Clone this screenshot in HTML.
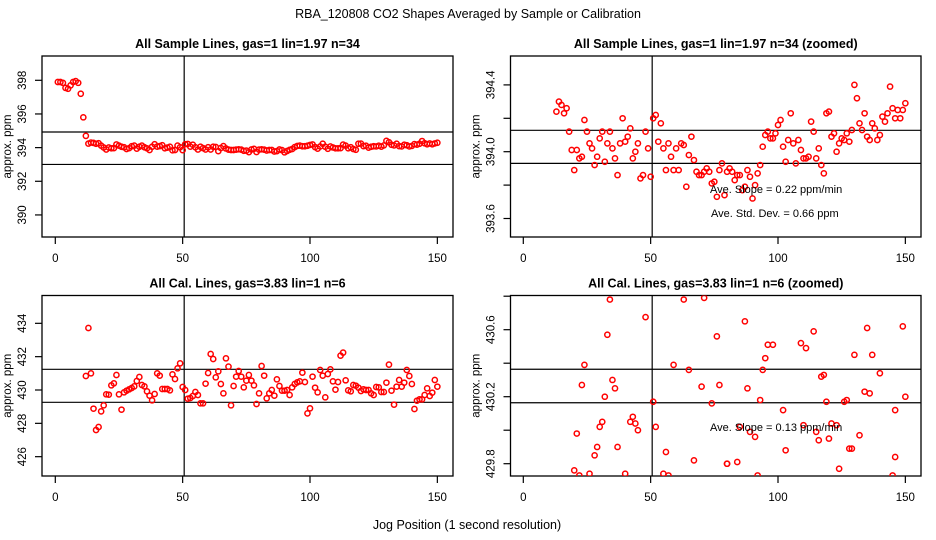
<!DOCTYPE html>
<html><head><meta charset="utf-8"><style>
html,body{margin:0;padding:0;background:#fff;}
svg{display:block;font-family:"Liberation Sans",sans-serif;}
</style></head><body>
<svg id="chart" width="936" height="540" viewBox="0 0 936 540" xmlns="http://www.w3.org/2000/svg">
<text x="468" y="18" text-anchor="middle" font-size="12.5">RBA_120808  CO2 Shapes Averaged by Sample or Calibration</text>
<text x="467" y="529" text-anchor="middle" font-size="12.5">Jog Position (1 second resolution)</text>
</svg>
<script>
// ---- data ----
const sampleVals = [397.9,397.9,397.85,397.55,397.5,397.7,397.9,397.95,397.85,397.2,395.8,394.7,394.24,394.3,394.28,394.23,394.26,394.12,394.01,393.89,394.01,393.96,393.97,394.19,394.12,394.05,394.02,393.92,393.97,394.08,394.12,393.94,394.05,394.12,394.02,393.96,393.86,394.05,394.2,394.06,394.09,394.14,393.96,394.0,394.05,393.84,393.86,394.12,394.02,393.85,394.2,394.22,394.06,394.17,394.02,393.89,394.05,393.97,393.89,394.02,393.89,394.05,394.04,393.79,393.98,394.09,393.95,393.88,393.86,393.86,393.88,393.9,393.88,393.81,393.82,393.73,393.89,393.93,393.74,393.88,393.9,393.88,393.83,393.86,393.86,393.77,393.79,393.89,393.85,393.72,393.8,393.87,393.92,394.03,394.1,394.12,394.08,394.08,394.11,394.16,394.19,394.03,393.94,394.07,394.23,394.05,393.93,394.07,394.01,393.96,393.96,393.97,394.18,394.12,393.96,394.02,393.92,393.87,394.23,394.24,394.09,394.11,394.0,394.05,394.08,394.07,394.11,394.06,394.13,394.4,394.32,394.17,394.13,394.23,394.09,394.07,394.17,394.14,394.07,394.1,394.21,394.18,394.23,394.39,394.26,394.2,394.25,394.2,394.25,394.29];
const calStart = 12;
const calVals = [430.84,433.72,431.0,428.88,427.6,427.78,428.72,429.08,429.74,429.72,430.28,430.4,430.9,429.74,428.82,429.86,429.96,430.04,430.12,430.22,430.54,430.78,430.3,430.22,429.92,429.66,429.38,429.76,431.0,430.86,430.06,430.06,430.06,429.98,430.94,430.66,431.3,431.6,430.18,430.0,429.48,429.52,429.64,429.88,429.7,429.2,429.2,430.38,431.02,432.16,431.86,430.76,431.12,430.36,429.8,431.9,431.4,429.08,430.24,430.8,431.14,430.8,430.16,430.56,430.9,430.56,430.28,429.16,429.8,431.44,430.86,429.5,429.8,430.0,429.66,430.64,430.24,429.96,429.96,430.0,429.7,430.16,430.36,430.46,430.52,431.04,430.48,428.6,428.9,430.8,430.14,429.86,431.2,430.86,429.56,430.96,431.24,430.52,430.02,430.48,432.06,432.24,430.58,429.98,429.92,430.3,430.26,430.14,429.94,430.04,430.0,430.0,429.8,429.7,430.18,430.16,429.88,429.88,430.44,431.52,429.96,429.12,430.2,430.6,430.2,430.44,431.2,430.84,430.36,428.86,429.36,429.44,429.44,429.7,430.1,429.64,429.84,430.6,430.2];
const calZoomX = [34,48,33,24,23,35,36,32,51,43,42,44,45,31,30,21,52,37,29,28,20,22,26,40,55,57,56,67,80,63,71,76,59,65,70,77,74,87,114,135,149,96,98,109,111,95,130,137,94,117,118,140,88,134,136,150,93,119,126,127,102,146,110,121,123,89,91,85,115,116,120,132,128,129,103,146,80,84,124,92,145];
const calZoomVals = [430.78,430.675,430.57,430.39,430.27,430.3,430.25,430.2,430.17,430.08,430.05,430.04,430.0,430.05,430.02,429.98,430.02,429.9,429.9,429.85,429.76,429.73,429.74,429.74,429.74,429.73,429.87,429.82,429.8,430.78,430.79,430.56,430.39,430.36,430.26,430.27,430.16,430.65,430.59,430.61,430.62,430.51,430.51,430.52,430.49,430.43,430.45,430.45,430.36,430.32,430.33,430.34,430.25,430.23,430.22,430.2,430.18,430.17,430.17,430.18,430.12,430.12,430.03,430.04,430.03,429.99,429.96,430.02,429.99,429.94,429.95,429.97,429.89,429.89,429.88,429.84,429.8,429.81,429.77,429.73,429.73];
const xTicks = [0,50,100,150];
const ticks1 = [390,392,394,396,398];
const ticks2 = [393.6,393.8,394.0,394.2,394.4];
const labels2 = ["393.6","","394.0","","394.4"];
const ticks3 = [426,428,430,432,434];
const ticks4 = [429.8,430.0,430.2,430.4,430.6,430.8];
const labels4 = ["429.8","","430.2","","430.6",""];
const hLines1 = [394.93,393.0];
const hLines2 = [394.128,393.93];
const hLines3 = [431.24,429.26];
const hLines4 = [430.364,430.164];
const vLine = 50.6;

const NS = "http://www.w3.org/2000/svg";
const svg = document.getElementById('chart');
function mk(tag, attrs, parent){const e=document.createElementNS(NS,tag);for(const k in attrs)e.setAttribute(k,attrs[k]);(parent||svg).appendChild(e);return e;}

function panel(p){
  const g = mk('g',{});
  
  
  const sx = v => p.x0 + v*2.547;
  const sy = v => p.yRef - (v - p.vRef)*p.ppu;
  const clip = 'clip-'+p.name;
  const cp = mk('clipPath',{id:clip},g);
  mk('rect',{x:p.l,y:p.t,width:p.r-p.l,height:p.b-p.t},cp);
  const t = mk('text',{x:(p.l+p.r)/2,y:p.t-8,'text-anchor':'middle','font-size':'12.5','font-weight':'bold'},g);
  t.textContent = p.title;
  
  
  const box = mk('rect',{x:p.l,y:p.t,width:p.r-p.l,height:p.b-p.t,fill:'none',stroke:'#000','stroke-width':1.3},g);
  
  
  xTicks.forEach(v=>{
    const X=sx(v);
    mk('line',{x1:X,x2:X,y1:p.b,y2:p.b+7,stroke:'#000','stroke-width':1.2},g);
    const tl=mk('text',{x:X,y:p.b+25,'text-anchor':'middle','font-size':'11.5'},g);
    tl.textContent=v;
    
    
  });
  p.ticks.forEach((v,i)=>{
    const Y=sy(v);
    mk('line',{x1:p.l-7,x2:p.l,y1:Y,y2:Y,stroke:'#000','stroke-width':1.2},g);
    const lab = p.labels ? p.labels[i] : String(v);
    if(lab){
      const tl=mk('text',{x:0,y:0,'text-anchor':'middle','font-size':'11.5',transform:`translate(${p.l-16},${Y}) rotate(-90)`},g);
      tl.textContent=lab;
      
      
    }
  });
  const yl=mk('text',{x:0,y:0,'text-anchor':'middle','font-size':'11.5',transform:`translate(${p.l-31},${(p.t+p.b)/2}) rotate(-90)`},g);
  yl.textContent='approx. ppm';
  
  
  const inner = mk('g',{'clip-path':`url(#${clip})`},g);
  p.hLines.forEach(v=>{
    const ln=mk('line',{x1:p.l,x2:p.r,y1:sy(v),y2:sy(v),stroke:'#000','stroke-width':1.2},inner);
    
    
  });
  const vl=mk('line',{x1:sx(vLine),x2:sx(vLine),y1:p.t,y2:p.b,stroke:'#000','stroke-width':1.2},inner);
  
  
  p.xs.forEach((xv,i)=>{
    const v=p.vals[i];
    if(v==null) return;
    const c=mk('circle',{cx:sx(xv),cy:sy(v),r:2.6,fill:'none',stroke:'#f00','stroke-width':1.5},inner);
    
    
  });
  (p.notes||[]).forEach(n=>{
    const tx=mk('text',{x:n[0],y:n[1],'font-size':'11'},g);
    tx.textContent=n[2];
    
    
  });
}
const sampleX = sampleVals.map((v,i)=>i+1);
const calX = calVals.map((v,i)=>i+calStart);
panel({name:'sample-panel',title:'All Sample Lines, gas=1 lin=1.97 n=34',l:42,r:453,t:56,b:237,x0:55.3,yRef:80.3,vRef:398,ppu:16.83,ticks:ticks1,hLines:hLines1,xs:sampleX,vals:sampleVals});
panel({name:'sample-zoom-panel',title:'All Sample Lines, gas=1 lin=1.97 n=34 (zoomed)',l:510.5,r:921,t:56,b:237,x0:523.3,yRef:151.7,vRef:394.0,ppu:167,ticks:ticks2,labels:labels2,hLines:hLines2,xs:sampleX,vals:sampleVals,
  notes:[[710,193,'Ave. Slope =  0.22  ppm/min'],[711,217,'Ave. Std. Dev. =  0.66  ppm']]});
panel({name:'cal-panel',title:'All Cal. Lines, gas=3.83 lin=1 n=6',l:42,r:453,t:295.5,b:476,x0:55.3,yRef:390,vRef:430,ppu:16.67,ticks:ticks3,hLines:hLines3,xs:calX,vals:calVals});
panel({name:'cal-zoom-panel',title:'All Cal. Lines, gas=3.83 lin=1 n=6 (zoomed)',l:510.5,r:921,t:295.5,b:476,x0:523.3,yRef:396.7,vRef:430.2,ppu:167.5,ticks:ticks4,labels:labels4,hLines:hLines4,xs:calZoomX,vals:calZoomVals,
  notes:[[710,431,'Ave. Slope =  0.13  ppm/min']]});
</script>
</body></html>
